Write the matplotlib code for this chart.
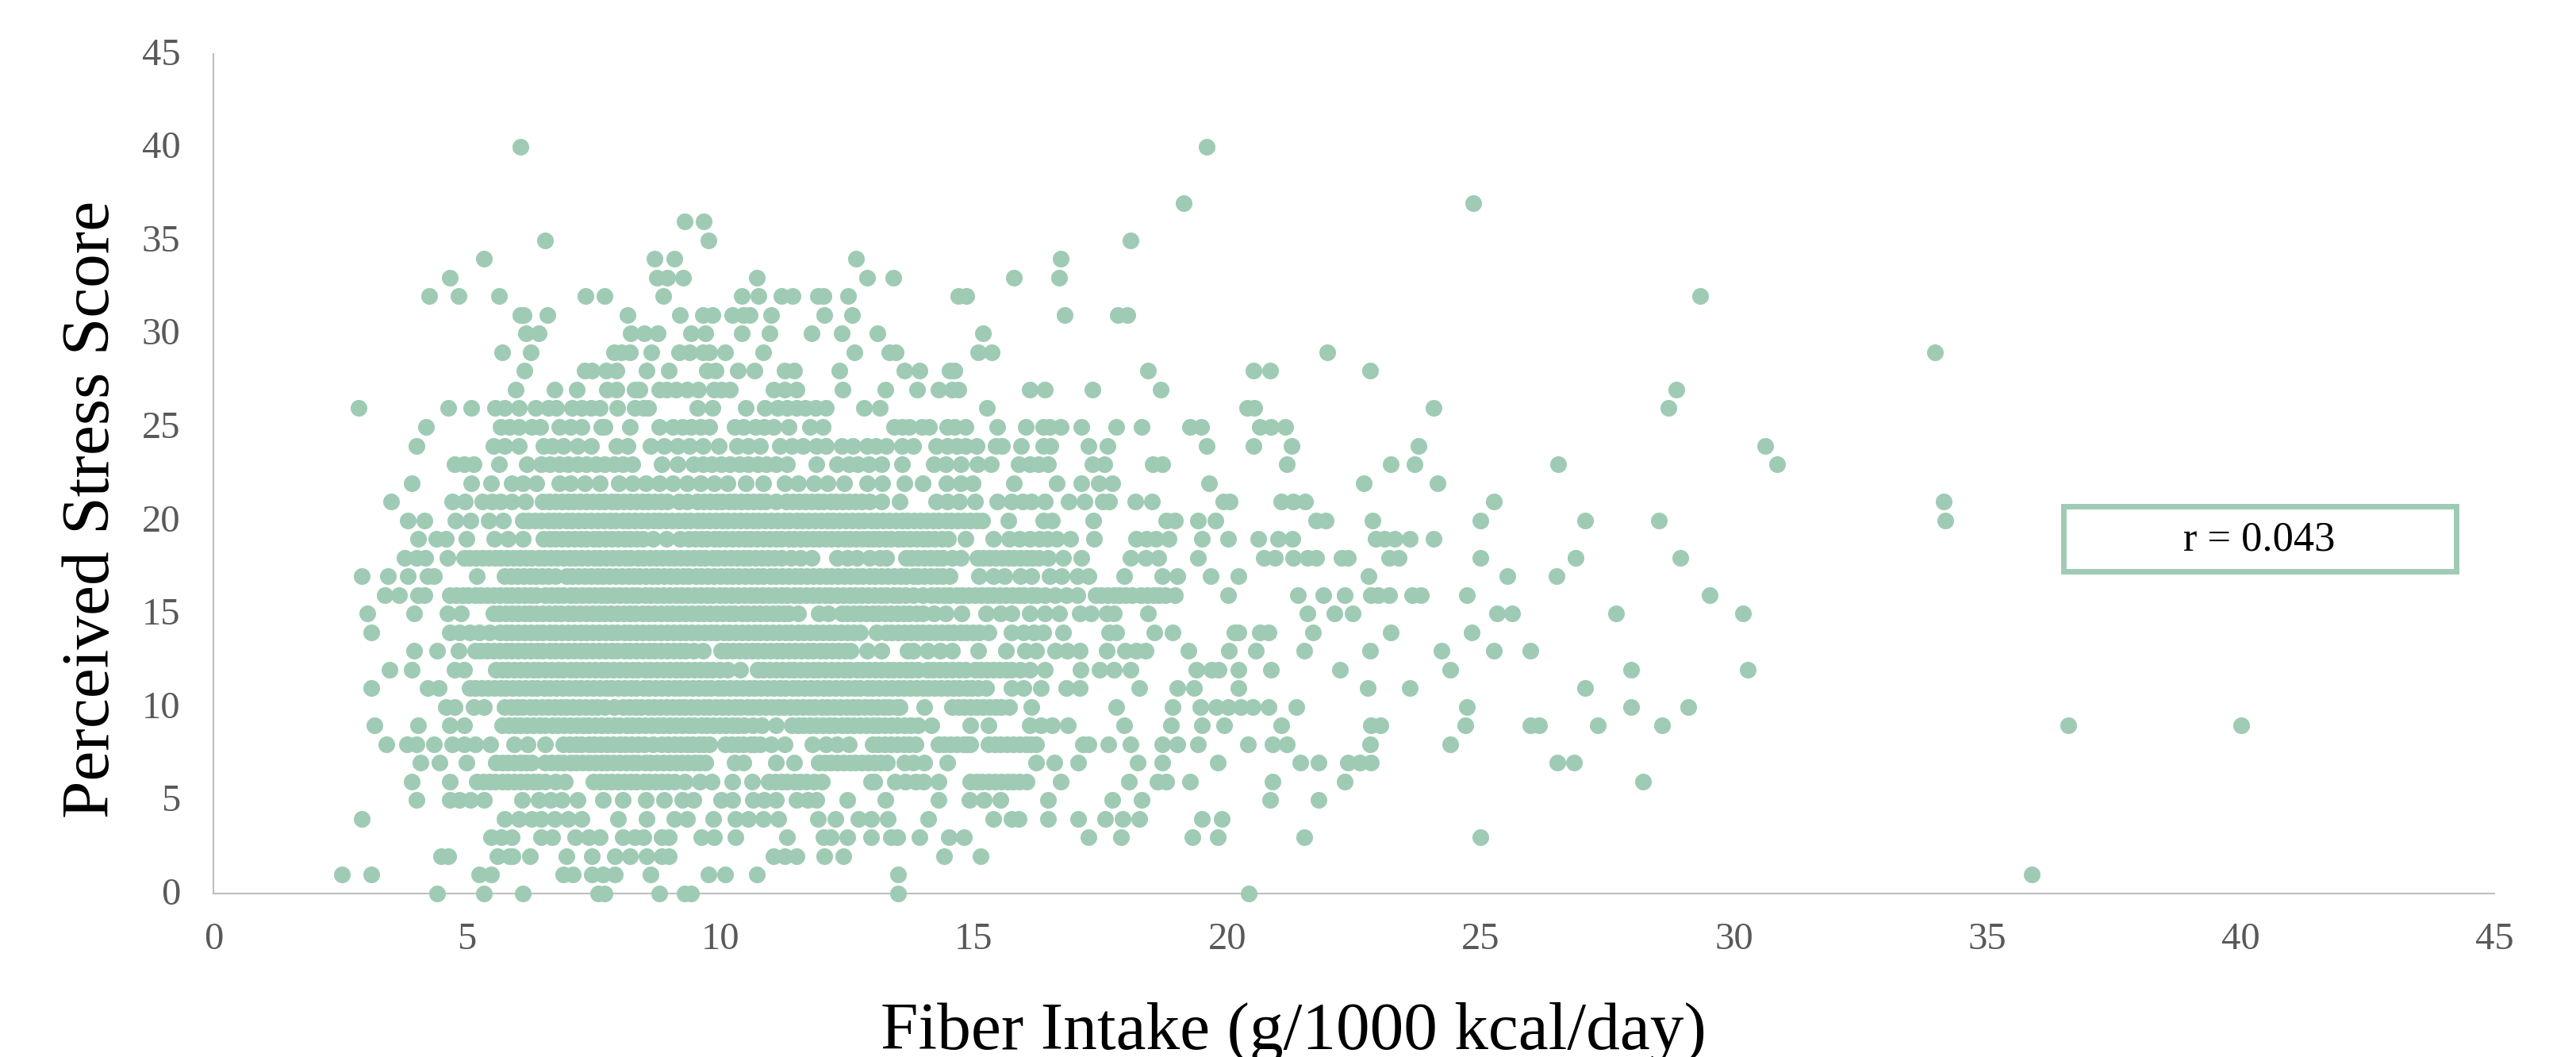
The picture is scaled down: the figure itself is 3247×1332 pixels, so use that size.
import matplotlib
matplotlib.use("Agg")
import matplotlib.pyplot as plt
from matplotlib.patches import Rectangle
from matplotlib.transforms import ScaledTranslation

# fiber intake values, one list per stress score
fiber_40 = [6.05, 19.6]
fiber_37 = [19.15, 24.86]
fiber_36 = [9.3, 9.68]
fiber_35 = [6.55, 9.76, 18.1]
fiber_34 = [5.33, 8.71, 9.09, 12.68, 16.72]
fiber_33 = [4.67, 8.75, 8.96, 9.27, 10.72, 12.9, 13.42, 15.8, 16.68]
fiber_32 = [4.25, 4.84, 5.63, 7.34, 7.72, 8.88, 10.43, 10.76, 11.2, 11.43, 11.92, 12.03, 12.52, 14.7, 14.85, 29.33]
fiber_31 = [6.05, 6.12, 6.59, 8.17, 9.21, 9.65, 9.85, 10.24, 10.46, 10.58, 11.01, 12.05, 12.6, 16.8, 17.85, 18.03]
fiber_30 = [6.17, 6.42, 8.24, 8.5, 8.76, 9.43, 9.7, 10.43, 10.97, 11.8, 12.39, 13.1, 15.18]
fiber_29 = [5.69, 6.26, 7.9, 8.04, 8.22, 8.64, 9.18, 9.39, 9.65, 9.79, 10.1, 10.84, 12.65, 13.33, 13.46, 15.09, 15.35, 21.98, 33.96]
fiber_28 = [6.13, 7.32, 7.47, 7.74, 7.95, 8.55, 8.98, 9.73, 9.9, 10.35, 10.68, 11.27, 11.45, 12.35, 13.63, 13.93, 14.53, 14.62, 18.44, 20.52, 20.85, 22.82]
fiber_27 = [5.96, 6.73, 7.17, 7.77, 7.95, 8.31, 8.4, 8.8, 8.94, 9.12, 9.34, 9.56, 9.88, 10.01, 10.19, 11.05, 11.27, 11.5, 12.41, 13.26, 13.88, 14.3, 14.57, 14.69, 16.1, 16.4, 17.35, 18.69, 28.87]
fiber_26 = [2.87, 4.63, 5.09, 5.55, 5.75, 6.03, 6.35, 6.6, 6.76, 7.07, 7.27, 7.45, 7.63, 7.97, 8.31, 8.49, 8.58, 9.55, 9.85, 10.51, 10.88, 11.13, 11.31, 11.5, 11.68, 11.88, 12.09, 12.84, 13.14, 15.26, 20.39, 20.53, 24.07, 28.7]
fiber_25 = [4.2, 5.66, 5.84, 6.02, 6.27, 6.45, 6.82, 7.05, 7.27, 7.65, 7.72, 8.22, 8.8, 9.07, 9.25, 9.43, 9.61, 9.79, 10.28, 10.46, 10.69, 10.87, 11.05, 11.35, 11.77, 12.02, 13.43, 13.58, 13.72, 13.97, 14.12, 14.48, 14.62, 14.84, 15.47, 16.03, 16.37, 16.5, 16.72, 17.13, 17.81, 18.31, 19.26, 19.49, 20.64, 20.86, 21.15]
fiber_24 = [4.0, 5.52, 5.75, 6.02, 6.51, 6.69, 6.91, 7.18, 7.45, 7.95, 8.17, 8.62, 8.89, 9.16, 9.39, 9.65, 9.97, 10.33, 10.55, 10.78, 11.18, 11.41, 11.63, 11.9, 12.08, 12.39, 12.62, 12.89, 13.07, 13.27, 13.58, 13.81, 14.26, 14.48, 14.66, 14.84, 15.05, 15.43, 15.56, 15.93, 16.37, 16.52, 17.26, 17.64, 19.6, 20.52, 21.27, 23.78, 30.62]
fiber_23 = [4.76, 4.94, 5.14, 5.63, 6.18, 6.46, 6.64, 6.82, 7.0, 7.18, 7.36, 7.54, 7.72, 7.9, 8.08, 8.26, 8.85, 9.16, 9.47, 9.65, 9.83, 10.01, 10.19, 10.37, 10.55, 10.73, 10.91, 11.09, 11.32, 11.9, 12.3, 12.53, 12.71, 12.93, 13.18, 13.58, 14.21, 14.44, 14.75, 15.07, 15.34, 15.88, 16.1, 16.28, 16.46, 17.34, 17.58, 18.53, 18.72, 21.18, 23.22, 23.69, 26.53, 30.85]
fiber_22 = [3.91, 5.09, 5.48, 5.88, 6.1, 6.37, 6.82, 7.05, 7.32, 7.63, 8.0, 8.26, 8.53, 8.8, 9.07, 9.34, 9.61, 9.88, 10.15, 10.51, 10.85, 11.27, 11.54, 11.85, 12.12, 12.44, 12.89, 13.2, 13.63, 13.99, 14.46, 14.75, 14.98, 15.8, 16.64, 17.13, 17.47, 17.74, 19.65, 22.69, 24.15]
fiber_21 = [3.5, 4.71, 4.96, 5.3, 5.5, 5.66, 5.88, 6.15, 6.5, 6.74, 6.99, 7.23, 7.48, 7.72, 7.97, 8.21, 8.46, 8.7, 8.95, 9.18, 9.35, 9.55, 9.8, 10.04, 10.29, 10.53, 10.78, 11.1, 11.3, 11.55, 11.8, 12.04, 12.29, 12.53, 12.78, 12.95, 13.18, 13.54, 14.26, 14.48, 14.71, 15.02, 15.47, 15.74, 15.96, 16.14, 16.4, 16.88, 17.18, 17.54, 17.67, 18.18, 18.52, 19.92, 20.05, 21.06, 21.31, 21.54, 25.27, 34.13]
fiber_20 = [3.83, 4.17, 4.78, 5.07, 5.43, 5.72, 6.1, 6.34, 6.6, 6.83, 7.08, 7.33, 7.57, 7.82, 8.07, 8.31, 8.56, 8.8, 9.05, 9.29, 9.54, 9.78, 10.03, 10.27, 10.52, 10.76, 11.01, 11.25, 11.5, 11.74, 11.99, 12.23, 12.48, 12.72, 12.97, 13.21, 13.46, 13.7, 13.95, 14.19, 14.44, 14.68, 14.93, 15.17, 15.68, 16.37, 16.55, 17.36, 18.8, 18.97, 19.43, 19.77, 21.76, 21.94, 22.86, 24.99, 27.06, 28.52, 34.17]
fiber_19 = [4.04, 4.4, 4.58, 5.0, 5.54, 5.81, 6.11, 6.51, 6.75, 7.0, 7.24, 7.49, 7.73, 7.98, 8.22, 8.47, 8.67, 8.94, 9.2, 9.38, 9.62, 9.87, 10.11, 10.36, 10.6, 10.85, 11.09, 11.34, 11.58, 11.83, 12.07, 12.32, 12.56, 12.81, 13.02, 13.25, 13.5, 13.74, 13.99, 14.23, 14.5, 14.84, 15.38, 15.7, 15.9, 16.1, 16.3, 16.45, 16.64, 16.9, 17.38, 18.2, 18.4, 18.6, 18.85, 19.5, 20.02, 20.61, 21.01, 21.28, 22.93, 23.11, 23.31, 23.61, 24.07]
fiber_18 = [3.77, 4.0, 4.18, 4.62, 4.94, 5.18, 5.43, 5.67, 5.92, 6.16, 6.41, 6.65, 6.9, 7.14, 7.39, 7.63, 7.88, 8.12, 8.37, 8.61, 8.86, 9.1, 9.35, 9.59, 9.84, 10.08, 10.33, 10.57, 10.82, 11.06, 11.4, 11.59, 11.8, 12.3, 12.5, 12.7, 12.95, 13.15, 13.27, 13.67, 13.9, 14.15, 14.38, 14.57, 14.75, 15.07, 15.31, 15.56, 15.8, 16.05, 16.28, 16.46, 16.77, 17.13, 18.09, 18.39, 18.64, 19.43, 20.73, 20.95, 21.31, 21.58, 21.76, 22.25, 22.39, 23.2, 23.38, 24.99, 26.88, 28.94]
fiber_17 = [2.92, 3.45, 3.83, 4.22, 4.35, 5.2, 5.75, 5.99, 6.24, 6.48, 6.74, 6.96, 7.2, 7.45, 7.69, 7.94, 8.18, 8.4, 8.53, 8.77, 9.02, 9.26, 9.51, 9.75, 10.0, 10.24, 10.49, 10.73, 10.98, 11.22, 11.47, 11.71, 11.96, 12.2, 12.45, 12.69, 12.94, 13.18, 13.43, 13.67, 13.8, 13.9, 14.15, 14.39, 14.53, 15.11, 15.38, 15.6, 15.92, 16.14, 16.5, 16.73, 17.04, 17.27, 17.97, 18.72, 19.02, 19.68, 20.23, 22.79, 25.53, 26.5]
fiber_16 = [3.38, 3.66, 4.04, 4.17, 4.67, 4.91, 5.16, 5.4, 5.65, 5.89, 6.14, 6.37, 6.55, 6.79, 7.04, 7.28, 7.53, 7.77, 8.02, 8.26, 8.51, 8.75, 9.0, 9.24, 9.49, 9.73, 9.98, 10.22, 10.47, 10.71, 10.96, 11.2, 11.45, 11.69, 11.94, 12.18, 12.43, 12.67, 12.92, 13.16, 13.41, 13.65, 13.99, 14.17, 14.41, 14.66, 14.9, 15.15, 15.39, 15.64, 15.88, 16.13, 16.41, 16.6, 16.82, 17.04, 17.4, 17.64, 17.88, 18.12, 18.3, 18.54, 18.78, 18.97, 20.02, 21.39, 21.89, 22.32, 22.84, 22.97, 23.2, 23.65, 23.83, 24.73, 29.52]
fiber_15 = [3.04, 3.96, 4.62, 4.89, 5.52, 5.76, 6.01, 6.25, 6.5, 6.74, 6.99, 7.23, 7.48, 7.72, 7.97, 8.21, 8.46, 8.7, 8.95, 9.19, 9.44, 9.68, 9.93, 10.17, 10.42, 10.66, 10.91, 11.15, 11.35, 11.54, 11.95, 12.13, 12.39, 12.63, 12.88, 13.12, 13.37, 13.61, 13.86, 13.99, 14.21, 14.44, 14.76, 15.25, 15.52, 15.74, 16.1, 16.41, 16.68, 17.09, 17.31, 17.63, 17.76, 18.44, 21.59, 22.11, 22.48, 25.33, 25.62, 27.68, 30.17]
fiber_14 = [3.12, 4.67, 4.85, 5.05, 5.25, 5.45, 5.65, 5.89, 6.14, 6.38, 6.63, 6.87, 7.12, 7.36, 7.61, 7.85, 8.1, 8.34, 8.59, 8.83, 9.08, 9.32, 9.57, 9.81, 10.06, 10.3, 10.55, 10.79, 11.04, 11.28, 11.53, 11.77, 12.02, 12.26, 12.51, 12.75, 13.09, 13.27, 13.51, 13.76, 14.0, 14.25, 14.49, 14.74, 14.98, 15.29, 15.74, 15.98, 16.19, 16.37, 16.77, 17.67, 17.81, 18.57, 18.93, 20.14, 20.23, 20.64, 20.82, 21.69, 23.22, 24.82]
fiber_13 = [3.96, 4.42, 4.84, 5.16, 5.4, 5.65, 5.89, 6.14, 6.38, 6.63, 6.87, 7.12, 7.36, 7.61, 7.85, 8.1, 8.34, 8.59, 8.83, 9.08, 9.32, 9.47, 9.65, 10.01, 10.25, 10.5, 10.74, 10.99, 11.23, 11.48, 11.72, 11.97, 12.21, 12.46, 12.57, 12.89, 13.18, 13.7, 13.8, 14.08, 14.33, 14.57, 15.09, 15.63, 16.01, 16.23, 16.6, 16.84, 17.09, 17.63, 17.99, 18.2, 18.39, 19.23, 20.04, 20.57, 21.52, 22.82, 24.23, 25.27, 25.98]
fiber_12 = [3.47, 3.92, 4.76, 4.94, 5.57, 5.81, 6.06, 6.3, 6.55, 6.79, 7.04, 7.28, 7.53, 7.77, 8.02, 8.26, 8.51, 8.75, 9.0, 9.24, 9.49, 9.73, 9.98, 10.15, 10.39, 10.73, 10.97, 11.22, 11.46, 11.71, 11.95, 12.2, 12.44, 12.69, 12.93, 13.18, 13.42, 13.67, 13.9, 14.08, 14.32, 14.57, 14.71, 14.84, 15.02, 15.26, 15.51, 15.75, 15.92, 16.1, 16.4, 17.1, 17.49, 17.76, 18.09, 19.4, 19.69, 19.83, 20.23, 20.86, 22.23, 24.4, 27.97, 30.27]
fiber_11 = [3.12, 4.22, 4.44, 5.05, 5.29, 5.54, 5.78, 6.03, 6.27, 6.52, 6.76, 7.01, 7.25, 7.5, 7.74, 7.99, 8.23, 8.48, 8.72, 8.97, 9.21, 9.46, 9.7, 9.95, 10.19, 10.44, 10.68, 10.93, 11.17, 11.42, 11.66, 11.91, 12.15, 12.4, 12.64, 12.89, 13.13, 13.38, 13.62, 13.87, 14.11, 14.36, 14.6, 14.85, 15.09, 15.25, 15.74, 15.98, 16.32, 16.82, 17.09, 18.27, 19.02, 19.35, 20.23, 22.78, 23.61, 27.06]
fiber_10 = [4.58, 4.76, 5.14, 5.34, 5.75, 5.99, 6.24, 6.48, 6.73, 6.97, 7.22, 7.46, 7.71, 7.9, 8.08, 8.32, 8.57, 8.81, 9.06, 9.3, 9.55, 9.79, 10.04, 10.28, 10.53, 10.77, 11.02, 11.26, 11.51, 11.75, 12.0, 12.24, 12.49, 12.73, 12.98, 13.22, 13.47, 13.54, 14.02, 14.57, 14.81, 15.06, 15.3, 15.55, 15.7, 16.14, 17.81, 18.93, 19.47, 19.78, 20.02, 20.27, 20.51, 20.82, 21.36, 24.73, 27.97, 29.1]
fiber_9 = [3.17, 4.04, 4.67, 4.94, 5.7, 5.94, 6.19, 6.43, 6.68, 6.92, 7.17, 7.41, 7.66, 7.9, 8.15, 8.39, 8.64, 8.88, 9.13, 9.37, 9.62, 9.86, 10.11, 10.35, 10.64, 10.82, 11.09, 11.41, 11.65, 11.9, 12.14, 12.39, 12.63, 12.88, 13.12, 13.37, 13.63, 13.76, 13.9, 14.17, 14.93, 15.29, 16.1, 16.32, 16.55, 16.85, 17.97, 18.89, 19.51, 19.94, 21.07, 22.84, 23.02, 24.7, 25.98, 26.16, 27.32, 28.58, 36.6, 40.0]
fiber_8 = [3.41, 3.82, 4.0, 4.35, 4.71, 4.94, 5.16, 5.46, 5.93, 6.2, 6.55, 6.91, 7.15, 7.4, 7.64, 7.89, 8.13, 8.38, 8.67, 8.85, 9.09, 9.34, 9.58, 9.79, 10.1, 10.34, 10.59, 10.78, 11.0, 11.27, 11.81, 12.08, 12.3, 12.53, 13.0, 13.24, 13.49, 13.73, 13.85, 14.3, 14.54, 14.79, 14.93, 15.29, 15.53, 15.78, 16.02, 16.23, 17.16, 17.27, 17.65, 18.1, 18.72, 19.02, 19.43, 20.41, 20.89, 21.18, 22.82, 24.4]
fiber_7 = [4.08, 4.46, 5.0, 5.57, 5.81, 6.06, 6.28, 6.55, 6.79, 7.04, 7.28, 7.53, 7.77, 8.02, 8.26, 8.51, 8.75, 9.0, 9.24, 9.49, 9.7, 10.28, 10.46, 11.09, 11.45, 11.94, 12.18, 12.43, 12.67, 12.92, 13.16, 13.29, 13.63, 13.81, 14.03, 14.48, 16.23, 16.59, 17.06, 18.23, 18.72, 19.81, 21.45, 21.81, 22.39, 22.62, 22.84, 26.52, 26.84]
fiber_6 = [3.92, 4.67, 5.2, 5.44, 5.69, 5.93, 6.18, 6.42, 6.74, 6.93, 7.5, 7.74, 7.99, 8.23, 8.48, 8.72, 8.97, 9.3, 9.6, 9.83, 10.24, 10.63, 10.96, 11.2, 11.45, 11.69, 12.0, 12.98, 13.04, 13.45, 13.65, 13.85, 14.01, 14.3, 14.93, 15.17, 15.42, 15.66, 15.91, 16.05, 16.72, 18.06, 18.62, 18.8, 19.26, 20.9, 22.32, 28.2]
fiber_5 = [4.0, 4.67, 4.85, 5.07, 5.34, 6.09, 6.42, 6.65, 6.87, 7.18, 7.68, 8.08, 8.53, 8.89, 9.25, 9.47, 10.01, 10.24, 10.64, 10.87, 11.09, 11.5, 11.72, 11.9, 12.51, 13.26, 14.3, 14.92, 15.2, 15.52, 16.47, 17.73, 18.31, 20.85, 21.81]
fiber_4 = [2.92, 5.75, 6.02, 6.28, 6.46, 6.73, 7.0, 7.27, 7.99, 8.55, 9.1, 9.34, 9.86, 10.3, 10.55, 10.85, 11.14, 11.93, 12.27, 12.72, 12.97, 13.3, 14.1, 15.39, 15.74, 15.89, 16.47, 17.06, 17.6, 17.93, 18.27, 19.51, 19.89]
fiber_3 = [5.48, 5.68, 5.88, 6.47, 6.69, 7.14, 7.41, 7.63, 8.08, 8.31, 8.49, 8.85, 8.98, 9.63, 9.88, 10.3, 11.31, 12.03, 12.17, 12.51, 12.98, 13.36, 13.49, 13.93, 14.51, 14.8, 17.27, 17.9, 19.32, 19.81, 21.52, 24.99]
fiber_2 = [4.49, 4.64, 5.61, 5.84, 5.9, 6.25, 6.96, 7.46, 7.92, 8.22, 8.55, 8.85, 8.98, 11.05, 11.27, 11.51, 12.05, 12.42, 14.42, 15.14]
fiber_1 = [2.54, 3.12, 5.25, 5.48, 6.91, 7.09, 7.46, 7.68, 7.92, 8.63, 9.76, 10.1, 10.72, 13.51, 35.88]
fiber_0 = [4.42, 5.33, 6.11, 7.59, 7.72, 8.8, 9.3, 9.43, 13.5, 20.43]

# more overlapping points inside the crowded rows
more_21 = [6.62, 6.87, 7.11, 7.36, 7.6, 7.85, 8.09, 8.34, 8.58, 8.83, 9.67, 9.92, 10.17, 10.41, 10.66, 10.9, 11.42, 11.67, 11.92, 12.17, 12.41, 12.66]
more_20 = [6.22, 6.47, 6.71, 6.96, 7.2, 7.45, 7.7, 7.94, 8.19, 8.43, 8.68, 8.92, 9.17, 9.41, 9.66, 9.9, 10.15, 10.39, 10.64, 10.88, 11.13, 11.37, 11.62, 11.86, 12.11, 12.35, 12.6, 12.84, 13.09, 13.33, 13.58, 13.82, 14.07, 14.31, 14.56, 14.8, 15.05]
more_19 = [6.63, 6.87, 7.12, 7.36, 7.61, 7.85, 8.1, 8.34, 9.5, 9.74, 9.99, 10.23, 10.48, 10.72, 10.97, 11.21, 11.46, 11.7, 11.95, 12.19, 12.44, 12.68, 12.92, 13.13, 13.37, 13.62, 13.86, 14.11, 14.37]
more_18 = [5.06, 5.3, 5.55, 5.79, 6.04, 6.28, 6.53, 6.77, 7.02, 7.26, 7.51, 7.75, 8.0, 8.24, 8.49, 8.73, 8.98, 9.22, 9.47, 9.71, 9.96, 10.2, 10.45, 10.69, 10.94, 11.2, 13.78, 14.02, 14.27, 15.19, 15.43, 15.68, 15.92, 16.16]
more_17 = [5.87, 6.12, 6.36, 6.6, 7.08, 7.32, 7.57, 7.81, 8.06, 8.29, 8.65, 8.89, 9.14, 9.38, 9.63, 9.87, 10.12, 10.36, 10.61, 10.85, 11.1, 11.34, 11.59, 11.83, 12.08, 12.32, 12.57, 12.81, 13.06, 13.3, 13.55, 14.03, 14.27]
more_16 = [4.79, 5.03, 5.28, 5.52, 5.77, 6.01, 6.26, 6.67, 6.91, 7.16, 7.4, 7.65, 7.89, 8.14, 8.38, 8.63, 8.87, 9.12, 9.36, 9.61, 9.85, 10.1, 10.34, 10.59, 10.83, 11.08, 11.32, 11.57, 11.81, 12.06, 12.3, 12.55, 12.79, 13.04, 13.28, 13.53, 13.8, 14.29, 14.53, 14.78, 15.02, 15.27, 15.51, 15.76, 16.0, 16.25, 17.52, 17.76, 18.0, 18.42, 18.66]
more_15 = [5.64, 5.88, 6.13, 6.37, 6.62, 6.86, 7.11, 7.35, 7.6, 7.84, 8.09, 8.33, 8.58, 8.82, 9.07, 9.31, 9.56, 9.8, 10.05, 10.29, 10.54, 10.78, 11.03, 11.25, 12.51, 12.75, 13.0, 13.24, 13.49, 13.73]
more_14 = [5.77, 6.01, 6.26, 6.5, 6.75, 7.0, 7.24, 7.48, 7.73, 7.97, 8.22, 8.46, 8.71, 8.95, 9.2, 9.44, 9.69, 9.93, 10.18, 10.42, 10.67, 10.91, 11.16, 11.4, 11.65, 11.89, 12.14, 12.38, 12.63, 13.39, 13.63, 13.88, 14.12, 14.37, 14.61, 14.86, 15.1]
more_13 = [5.28, 5.52, 5.77, 6.01, 6.26, 6.5, 6.75, 7.0, 7.24, 7.48, 7.73, 7.97, 8.22, 8.46, 8.71, 8.95, 9.2, 10.13, 10.37, 10.62, 10.86, 11.11, 11.35, 11.6, 11.84, 12.09, 12.33]
more_12 = [5.69, 5.93, 6.18, 6.42, 6.67, 6.91, 7.16, 7.4, 7.65, 7.89, 8.14, 8.38, 8.63, 8.87, 9.12, 9.36, 9.61, 9.85, 10.85, 11.09, 11.34, 11.58, 11.83, 12.07, 12.32, 12.56, 12.81, 13.05, 13.3, 13.54, 13.78, 14.2, 14.45, 15.14, 15.38, 15.63]
more_11 = [5.17, 5.41, 5.66, 5.9, 6.15, 6.39, 6.64, 6.88, 7.13, 7.37, 7.62, 7.86, 8.11, 8.35, 8.6, 8.84, 9.09, 9.33, 9.58, 9.82, 10.07, 10.31, 10.56, 10.8, 11.05, 11.29, 11.54, 11.78, 12.03, 12.27, 12.52, 12.76, 13.01, 13.25, 13.5, 13.74, 13.99, 14.23, 14.48, 14.72, 14.97]
more_10 = [5.87, 6.11, 6.36, 6.6, 6.85, 7.09, 7.34, 7.58, 8.2, 8.44, 8.69, 8.93, 9.18, 9.42, 9.67, 9.91, 10.16, 10.4, 10.65, 10.89, 11.14, 11.38, 11.63, 11.87, 12.12, 12.36, 12.61, 12.85, 13.1, 13.34, 14.69, 14.93, 15.18, 15.43]
more_9 = [5.82, 6.06, 6.31, 6.55, 6.8, 7.04, 7.29, 7.53, 7.78, 8.02, 8.27, 8.51, 8.76, 9.0, 9.25, 9.49, 9.74, 9.98, 10.23, 10.47, 11.53, 11.77, 12.02, 12.26, 12.51, 12.75, 13.0, 13.24, 13.49]
more_8 = [7.03, 7.27, 7.52, 7.76, 8.01, 8.25, 8.5, 8.97, 9.22, 9.46, 9.68, 10.22, 10.46, 10.68, 13.12, 13.36, 13.61, 14.42, 14.66, 14.86, 15.41, 15.65, 15.9, 16.12]
more_7 = [5.69, 5.93, 6.17, 6.67, 6.91, 7.16, 7.4, 7.65, 7.89, 8.14, 8.38, 8.63, 8.87, 9.12, 9.36, 9.6, 12.06, 12.3, 12.55, 12.79, 13.04]
more_6 = [5.32, 5.56, 5.81, 6.05, 6.3, 6.54, 7.62, 7.86, 8.11, 8.35, 8.6, 8.84, 9.1, 11.08, 11.32, 11.57, 11.85, 15.05, 15.29, 15.54, 15.78]

scores = [40, 37, 36, 35, 34, 33, 32, 31, 30, 29, 28, 27, 26, 25, 24, 23, 22, 21,
          20, 19, 18, 17, 16, 15, 14, 13, 12, 11, 10, 9, 8, 7, 6, 5, 4, 3, 2, 1, 0]
fiber_rows = [fiber_40, fiber_37, fiber_36, fiber_35, fiber_34, fiber_33, fiber_32, fiber_31,
              fiber_30, fiber_29, fiber_28, fiber_27, fiber_26, fiber_25, fiber_24, fiber_23,
              fiber_22, fiber_21 + more_21, fiber_20 + more_20, fiber_19 + more_19,
              fiber_18 + more_18, fiber_17 + more_17, fiber_16 + more_16, fiber_15 + more_15,
              fiber_14 + more_14, fiber_13 + more_13, fiber_12 + more_12, fiber_11 + more_11,
              fiber_10 + more_10, fiber_9 + more_9, fiber_8 + more_8, fiber_7 + more_7,
              fiber_6 + more_6, fiber_5, fiber_4, fiber_3, fiber_2, fiber_1, fiber_0]

x_ticks = [0, 5, 10, 15, 20, 25, 30, 35, 40, 45]
y_ticks = [0, 5, 10, 15, 20, 25, 30, 35, 40, 45]

plt.rcParams['font.family'] = ['Liberation Serif', 'DejaVu Serif']

W, H = 3247, 1332
green = '#9FCBB5'

fig = plt.figure(figsize=(W / 100, H / 100), dpi=100)
ax = fig.add_axes([269 / W, 1 - 1126 / H, (3144 - 269) / W, (1126 - 67.6) / H])

for score, fibers in zip(scores, fiber_rows):
    ax.scatter(fibers, [score] * len(fibers), s=230, color=green, linewidths=0,
               clip_on=False, zorder=3)

ax.set_xlim(0, 45)
ax.set_ylim(0, 45)
ax.set_xticks(x_ticks)
ax.set_yticks(y_ticks)
ax.tick_params(length=0, labelsize=35, labelcolor='#595959')
ax.tick_params(axis='x', pad=26)
ax.tick_params(axis='y', pad=30)
# y labels sit a little above their rows
for label in ax.get_yticklabels():
    label.set_transform(label.get_transform() + ScaledTranslation(0, 3 / 100, fig.dpi_scale_trans))
for side in ['top', 'right']:
    ax.spines[side].set_visible(False)
for side in ['left', 'bottom']:
    ax.spines[side].set_color('#BFBFBF')
    ax.spines[side].set_linewidth(1.5)

fig.text(1110 / W, 1 - 1322 / H, 'Fiber Intake (g/1000 kcal/day)',
         ha='left', va='baseline', fontsize=61.5, color='black')
fig.text(137 / W, 1 - 253 / H, 'Perceived Stress Score', rotation=90, rotation_mode='anchor',
         ha='right', va='baseline', fontsize=61.5, color='black')

# r label box
fig.add_artist(Rectangle((2601 / W, 1 - 720 / H), 495 / W, 82 / H, transform=fig.transFigure,
                         facecolor='white', edgecolor=green, linewidth=5, zorder=5))
fig.text(2848 / W, 1 - 680 / H, 'r = 0.043', ha='center', va='center', fontsize=37.7,
         color='black', zorder=6)

fig.savefig('out.png', dpi=100)
